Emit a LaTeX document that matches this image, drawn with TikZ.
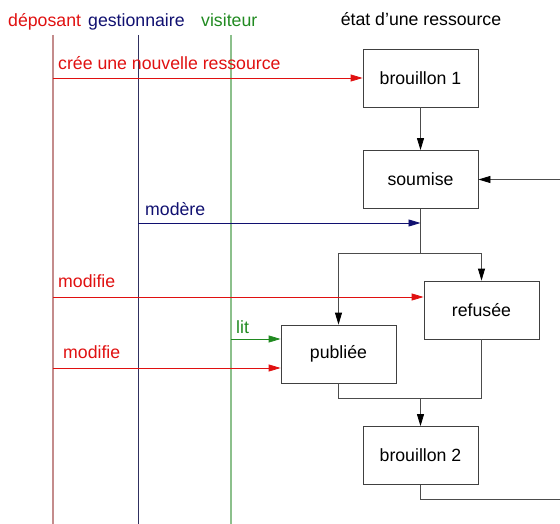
\documentclass[tikz,border=0pt]{standalone}
\usepackage{fontspec}
\setmainfont{Liberation Sans}
\usetikzlibrary{arrows.meta}
\definecolor{rouge}{HTML}{E01010}
\definecolor{bleu}{HTML}{101070}
\definecolor{vert}{HTML}{208A20}
\definecolor{rougeclair}{HTML}{C48C8C}
\definecolor{bleuclair}{HTML}{303060}
\definecolor{vertclair}{HTML}{8CC08C}

\begin{document}
\begin{tikzpicture}[x=1pt,y=1pt]
\tikzstyle{every node}+=[inner sep=0pt, font=\fontsize{17.7}{20}\selectfont]
\tikzstyle{etat}=[draw=black!75, line width=0.8pt, minimum width=115pt, minimum height=58pt]
\tikzstyle{fleche}=[line width=0.8pt, -{Triangle[length=12pt,width=7pt]}]
\tikzstyle{transition}=[black!70, line width=0.8pt, -{Triangle[length=12pt,width=7pt,color=black]}]
\useasboundingbox (0,0) rectangle (560,-524);
\draw (8,-27) node [anchor=base west, text=rouge] (tdep) {déposant};
\draw (88,-27) node [anchor=base west, text=bleu] (tgest) {gestionnaire};
\draw (201,-27) node [anchor=base west, text=vert] (tvis) {visiteur};
\draw (421,-26) node [anchor=base] (tetat) {état d'une ressource};
\coordinate (dep) at (53,-35);
\coordinate (gest) at (138,-35);
\coordinate (vis) at (231,-35);
\draw [rougeclair, line width=1.3pt] (dep) -- (53,-524);
\draw [bleuclair, line width=1pt] (gest) -- (138,-524);
\draw [vertclair, line width=1.3pt] (vis) -- (231,-524);
\draw (420.5,-78) node [etat] (b1) {brouillon 1};
\draw (420.5,-179.5) node [etat] (soumise) {soumise};
\draw (481.5,-310) node [etat] (refusee) {refusée};
\draw (338.5,-354) node [etat] (publiee) {publiée};
\draw (420.5,-455.5) node [etat] (b2) {brouillon 2};
\coordinate (fourche) at (420.5,-253);
\coordinate (jonction) at (420.5,-398);
\coordinate (bas) at (560,-499);
\coordinate (retour) at (560,-179.5);
\coordinate (modere) at (420.5,-223);
\draw [transition] (b1) -- (soumise);
\draw [black!70, line width=0.8pt] (soumise) -- (fourche);
\draw [transition] (fourche) -| (refusee);
\draw [transition] (fourche) -| (publiee);
\draw [black!70, line width=0.8pt] (publiee) |- (jonction);
\draw [black!70, line width=0.8pt] (refusee) |- (jonction);
\draw [transition] (jonction) -- (b2);
\draw [black!70, line width=0.8pt] (b2) |- (bas);
\draw [transition] (retour) -- (soumise);
\draw [rouge, fleche] (dep |- b1.west) -- (b1.west);
\draw (58,-70) node [anchor=base west, text=rouge] (lcree) {crée une nouvelle ressource};
\draw [bleu, fleche] (gest |- modere) -- (modere);
\draw (145,-215) node [anchor=base west, text=bleu] (lmodere) {modère};
\draw [rouge, fleche] (dep |- 0,-297) -- ([yshift=13pt]refusee.west);
\draw (58,-287) node [anchor=base west, text=rouge] (lmodif1) {modifie};
\draw [vert, fleche] (vis |- 0,-339) -- ([yshift=15pt]publiee.west);
\draw (236,-333) node [anchor=base west, text=vert] (llit) {lit};
\draw [rouge, fleche] (dep |- 0,-368) -- ([yshift=-14pt]publiee.west);
\draw (63,-358) node [anchor=base west, text=rouge] (lmodif2) {modifie};
\end{tikzpicture}
\end{document}
